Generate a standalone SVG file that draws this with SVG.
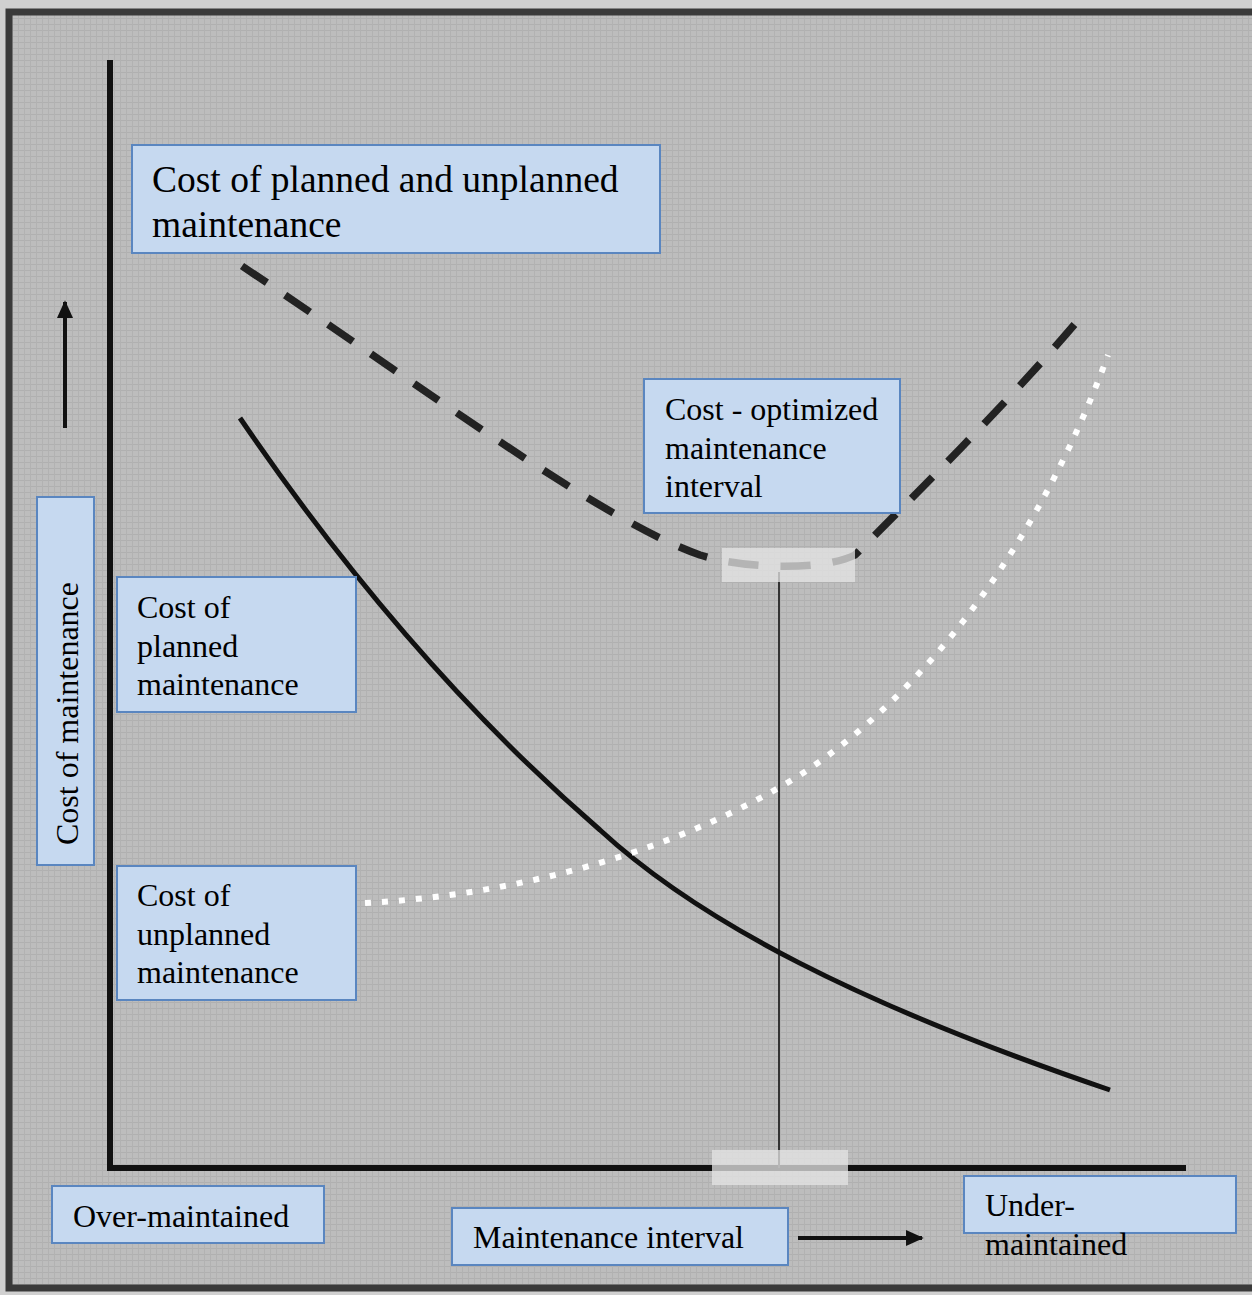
<svg xmlns="http://www.w3.org/2000/svg" width="1252" height="1295" viewBox="0 0 1252 1295">
<style>
.box{fill:#c6d9f0;stroke:#5a86c0;stroke-width:2}
.t{font-family:"Liberation Serif","Times New Roman",serif;fill:#000}
.t28{font-size:32px}
.t34{font-size:37.5px}
.patch{fill:#e6e6e6;opacity:0.75}
</style>
<defs>
<pattern id="tex" width="6" height="6" patternUnits="userSpaceOnUse">
<rect width="6" height="6" fill="#bdbdbd"/>
<rect x="0" y="0" width="6" height="1" fill="#b0b0b0"/>
<rect x="0" y="0" width="1" height="6" fill="#b2b2b2"/>
</pattern>
<marker id="ah" viewBox="0 0 10 10" refX="9" refY="5" markerWidth="4.5" markerHeight="4.5" orient="auto" markerUnits="strokeWidth">
<path d="M0,0.5 L10,5 L0,9.5 z" fill="#111"/>
</marker>
</defs>
<rect width="1252" height="1295" fill="#d0d0d0"/>
<rect x="9" y="12" width="1260" height="1276" fill="url(#tex)" stroke="#3a3a3a" stroke-width="7"/>
<g id="connectors" fill="none">
<line id="y-axis" x1="110" y1="60" x2="110" y2="1168" stroke="#111" stroke-width="6"/>
<line id="x-axis" x1="107" y1="1168" x2="1186" y2="1168" stroke="#111" stroke-width="6"/>
<line id="opt-line" x1="779" y1="572" x2="779" y2="1168" stroke="#333" stroke-width="2"/>
<path id="planned-curve" d="M240,418 C330,550 450,700 600,830 C700,922 860,1005 1110,1090" stroke="#111" stroke-width="5"/>
<path id="unplanned-curve" d="M365,903 C520,895 680,850 800,775 C930,690 1040,540 1108,355" stroke="#fff" stroke-width="6" stroke-dasharray="6 11"/>
<path id="total-curve" d="M242,266 C420,385 600,520 700,555 C740,568 820,572 855,555 C930,480 1020,390 1085,312" stroke="#222" stroke-width="7.5" stroke-dasharray="30 22"/>
<line id="up-arrow" x1="65" y1="428" x2="65" y2="302" stroke="#111" stroke-width="4" marker-end="url(#ah)"/>
<line id="right-arrow" x1="798" y1="1238" x2="922" y2="1238" stroke="#111" stroke-width="4" marker-end="url(#ah)"/>
</g>
<rect class="patch" x="722" y="548" width="133" height="34"/>
<rect class="patch" x="712" y="1150" width="136" height="35"/>
<g id="node-total">
<rect class="box" x="132" y="145" width="528" height="108"/>
<text class="t t34" x="152" y="192">Cost of planned and unplanned</text>
<text class="t t34" x="152" y="237">maintenance</text>
</g>
<g id="node-optimized">
<rect class="box" x="644" y="379" width="256" height="134"/>
<text class="t t28" x="665" y="420">Cost - optimized</text>
<text class="t t28" x="665" y="459">maintenance</text>
<text class="t t28" x="665" y="497">interval</text>
</g>
<g id="node-planned">
<rect class="box" x="117" y="577" width="239" height="135"/>
<text class="t t28" x="137" y="618">Cost of</text>
<text class="t t28" x="137" y="657">planned</text>
<text class="t t28" x="137" y="695">maintenance</text>
</g>
<g id="node-unplanned">
<rect class="box" x="117" y="866" width="239" height="134"/>
<text class="t t28" x="137" y="906">Cost of</text>
<text class="t t28" x="137" y="945">unplanned</text>
<text class="t t28" x="137" y="983">maintenance</text>
</g>
<g id="node-ylabel">
<rect class="box" x="37" y="497" width="57" height="368"/>
<text class="t t28" transform="translate(78,845) rotate(-90)">Cost of maintenance</text>
</g>
<g id="node-over">
<rect class="box" x="52" y="1186" width="272" height="57"/>
<text class="t t28" x="73" y="1227">Over-maintained</text>
</g>
<g id="node-interval">
<rect class="box" x="452" y="1208" width="336" height="57"/>
<text class="t t28" x="473" y="1248">Maintenance interval</text>
</g>
<g id="node-under">
<rect class="box" x="964" y="1176" width="272" height="57"/>
<text class="t t28" x="985" y="1216">Under-</text>
<text class="t t28" x="985" y="1255">maintained</text>
</g>
</svg>
